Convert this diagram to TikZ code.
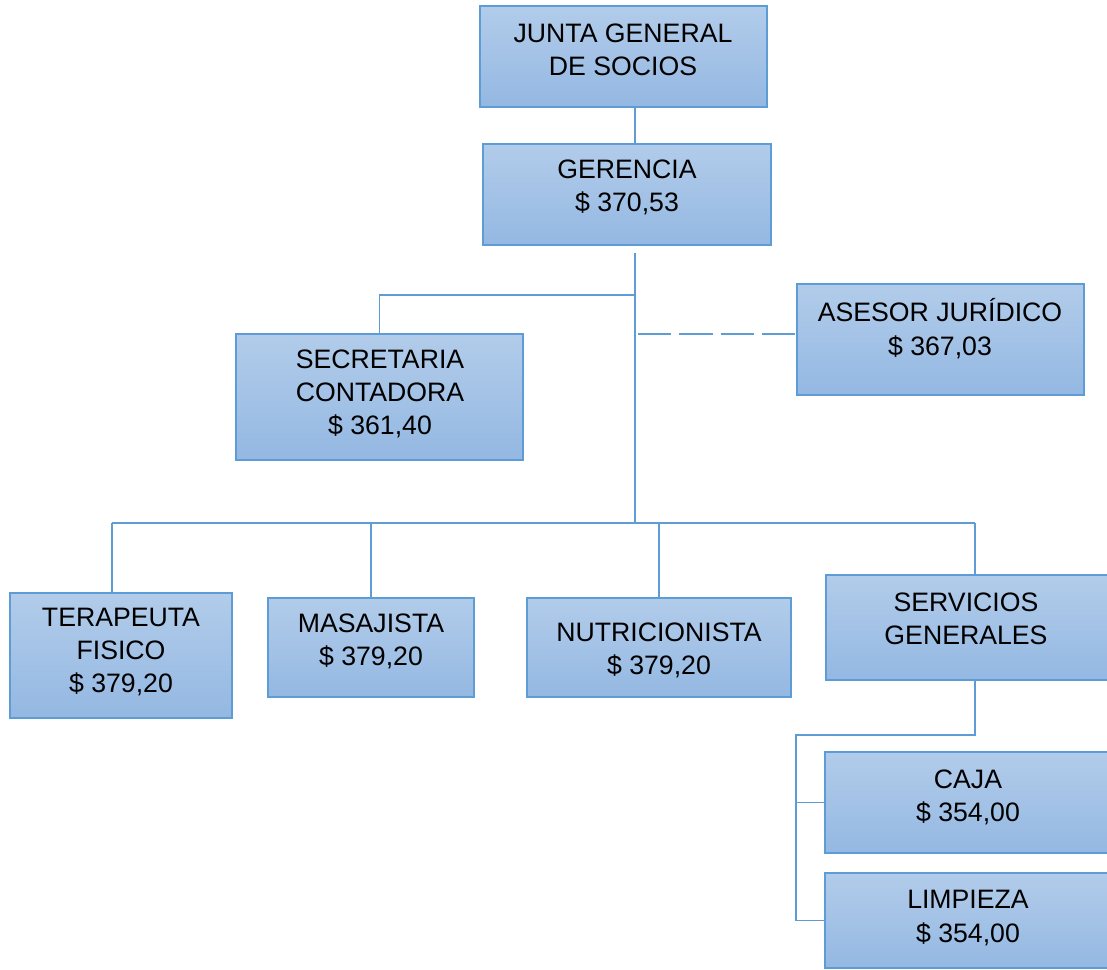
\documentclass[tikz,border=0pt]{standalone}
\usepackage{fontspec}
\setmainfont{Liberation Sans}
\definecolor{boxtop}{RGB}{178,204,234}
\definecolor{boxbot}{RGB}{148,184,226}
\definecolor{boxline}{RGB}{94,156,214}
\newdimen\pxu \pxu=0.75pt
\begin{document}
\begin{tikzpicture}[x=0.75pt,y=0.75pt,yscale=-1,xscale=1,
    box/.style={draw=boxline, line width=1pt, top color=boxtop, bottom color=boxbot, inner sep=0pt},
    txt/.style={align=center, inner sep=0.75pt, font=\fontsize{20}{25}\selectfont},
    link/.style={draw=boxline, line width=0.9pt},
    dashlink/.style={link, dash pattern=on 25pt off 6pt}]
        \useasboundingbox (0,0) rectangle (1107,970);

        %Shape: Rectangle
        \node [box, minimum width=287\pxu, minimum height=101\pxu] (junta) at (623.5,56.5) {};
        %Shape: Rectangle
        \node [box, minimum width=288\pxu, minimum height=101\pxu] (ger) at (627,194.5) {};
        %Shape: Rectangle
        \node [box, minimum width=287\pxu, minimum height=126\pxu] (sec) at (379.5,397) {};
        %Shape: Rectangle
        \node [box, minimum width=287\pxu, minimum height=111\pxu] (ase) at (940.5,339.5) {};
        %Shape: Rectangle
        \node [box, minimum width=222\pxu, minimum height=125\pxu] (ter) at (121,655.5) {};
        %Shape: Rectangle
        \node [box, minimum width=206\pxu, minimum height=99\pxu] (mas) at (371,647.5) {};
        %Shape: Rectangle
        \node [box, minimum width=264\pxu, minimum height=99\pxu] (nut) at (659,647.5) {};
        %Shape: Rectangle
        \node [box, minimum width=286\pxu, minimum height=105\pxu] (ser) at (969,627.5) {};
        %Shape: Rectangle
        \node [box, minimum width=287\pxu, minimum height=101\pxu] (caja) at (968.5,802.5) {};
        %Shape: Rectangle
        \node [box, minimum width=287\pxu, minimum height=95\pxu] (lim) at (968.5,920.5) {};

        %Straight Lines
        \coordinate (trunk) at (635,253);
        \coordinate (bus) at (635,523);
        \coordinate (secj) at (635,295);
        \coordinate (asej) at (638,334);
        \coordinate (busL) at (112,523);
        \coordinate (busR) at (975,523);
        \coordinate (subj) at (796,735);
        \draw [link] (junta.south -| trunk) -- (ger.north -| trunk) ;
        \draw [link] (trunk) -- (bus) ;
        \draw [link] (secj) -| (sec.north) ;
        \draw [dashlink] (asej) -- (asej -| ase.west) ;
        \draw [link] (busL) -- (busR) ;
        \draw [link] (busL) -- (busL |- ter.north) ;
        \draw [link] (mas.north |- busL) -- (mas.north) ;
        \draw [link] (nut.north |- busL) -- (nut.north) ;
        \draw [link] (busR) -- (busR |- ser.north) ;
        \draw [link] (busR |- ser.south) |- (subj) -- (subj |- lim.west) -- (lim.west) ;
        \draw [link] (subj |- caja.west) -- (caja.west) ;

        % Text Node
        \node [txt] (junta-t) at (623,50) {JUNTA GENERAL\\DE SOCIOS};
        % Text Node
        \node [txt] (ger-t) at (627,187.5) {GERENCIA\\\$ 370,53};
        % Text Node
        \node [txt] (sec-t) at (380,394) {SECRETARIA\\CONTADORA\\\$ 361,40};
        % Text Node
        \node [txt] (ase-t) at (940,328.5) {ASESOR JURÍDICO\\\$ 367,03};
        % Text Node
        \node [txt] (ter-t) at (121,652) {TERAPEUTA\\FISICO\\\$ 379,20};
        % Text Node
        \node [txt] (mas-t) at (371,641.5) {MASAJISTA\\\$ 379,20};
        % Text Node
        \node [txt] (nut-t) at (659,650.5) {NUTRICIONISTA\\\$ 379,20};
        % Text Node
        \node [txt] (ser-t) at (966,619) {SERVICIOS\\GENERALES};
        % Text Node
        \node [txt] (caja-t) at (968,797.5) {CAJA\\\$ 354,00};
        % Text Node
        \node [txt] (lim-t) at (968,918) {LIMPIEZA\\\$ 354,00};
\end{tikzpicture}
\end{document}
